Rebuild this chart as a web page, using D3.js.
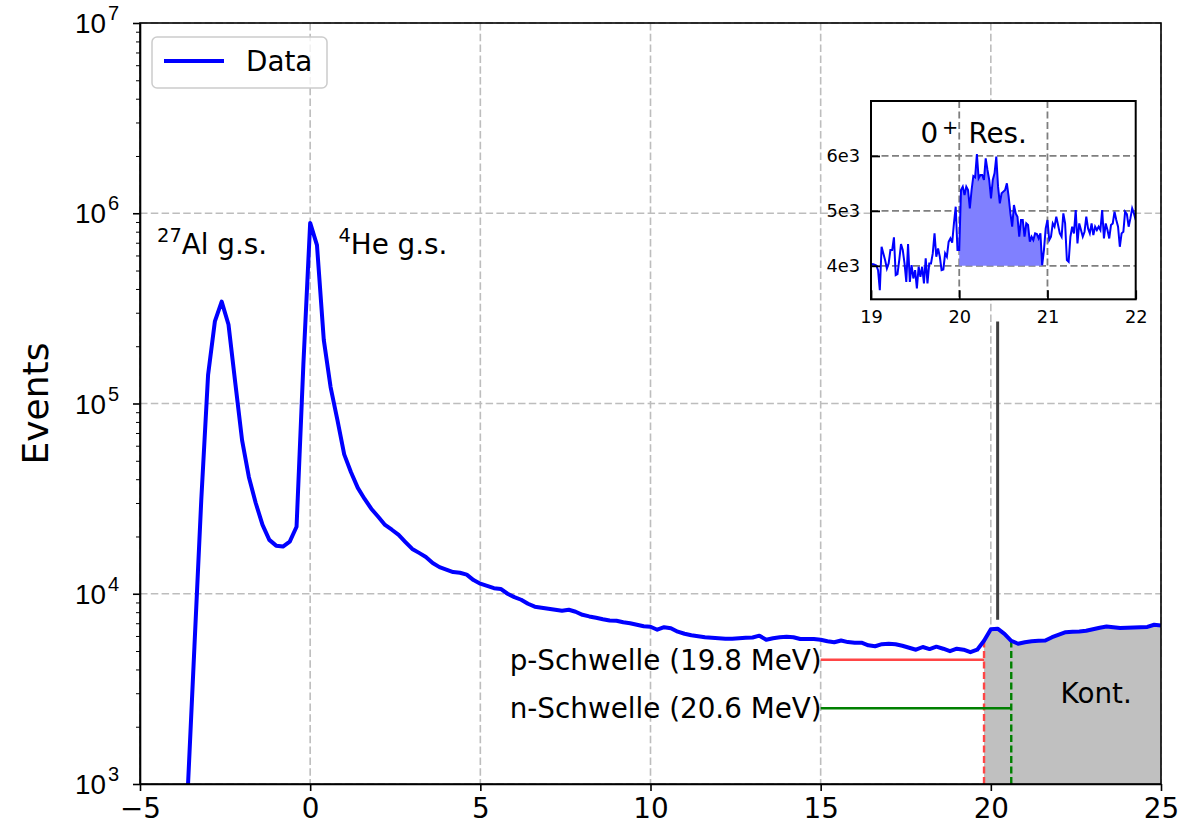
<!DOCTYPE html>
<html>
<head>
<meta charset="utf-8">
<script src="https://cdn.jsdelivr.net/npm/d3@7"></script>
<style>
  body { margin: 0; background: #fff; }
  svg { display: block; font-family: "DejaVu Sans", sans-serif; }
</style>
</head>
<body>
<svg id="chart" width="1194" height="829"></svg>
<script>
// ---- data ----
const energy = [-3.6,-3.4,-3.2,-3,-2.8,-2.6,-2.4,-2.2,-2,-1.8,-1.6,-1.4,-1.2,-1,-0.8,-0.6,-0.4,-0.2,
  0,0.2,0.4,0.6,0.8,1,1.2,1.4,1.6,1.8,2,2.2,2.4,2.6,2.8,3,3.2,3.4,3.6,3.8,4,4.2,4.4,4.6,4.8,
  5,5.2,5.4,5.6,5.8,6,6.2,6.4,6.6,6.8,7,7.2,7.4,7.6,7.8,8,8.2,8.4,8.6,8.8,9,9.2,9.4,9.6,9.8,
  10,10.2,10.4,10.6,10.8,11,11.2,11.4,11.6,11.8,12,12.2,12.4,12.6,12.8,13,13.2,13.4,13.6,13.8,14,14.2,14.4,14.6,14.8,
  15,15.2,15.4,15.6,15.8,16,16.2,16.4,16.6,16.8,17,17.2,17.4,17.6,17.8,18,18.2,18.4,18.6,18.8,19,19.2,19.4,19.6,19.8,
  20,20.2,20.4,20.6,20.8,21,21.2,21.4,21.6,21.8,22,22.2,22.4,22.6,22.8,23,23.2,23.4,23.6,23.8,24,24.2,24.4,24.6,24.8,
  25];
const events = [900,5300,31000,141000,270000,343000,260000,128000,64000,41000,30000,23000,19200,17900,17700,18800,22500,160000,
  890000,680000,216000,122000,82000,54000,43500,36000,31500,27900,25400,23000,21700,20400,18700,17200,16400,15600,14500,13800,13400,13000,12900,12600,11800,
  11300,11000,10700,10600,10000,9600,9300,8860,8550,8440,8340,8240,8140,8240,8040,7750,7600,7480,7350,7240,7210,7080,7000,6870,6750,
  6710,6470,6670,6590,6320,6160,6050,5980,5910,5870,5840,5800,5800,5840,5870,5890,6020,5730,5840,5910,5940,5910,5780,5780,5780,
  5730,5630,5560,5680,5570,5530,5530,5360,5300,5430,5460,5430,5330,5200,5080,5250,5120,5270,5140,4990,5140,5080,4930,5080,5660,
  6510,6550,6160,5660,5460,5560,5630,5660,5680,5910,6090,6280,6320,6340,6390,6510,6630,6730,6670,6610,6630,6650,6670,6690,6870,
  6800];

const xTicks = [-5, 0, 5, 10, 15, 20, 25];
const yTicks = [1e3, 1e4, 1e5, 1e6, 1e7];
const yTickExp = ["3", "4", "5", "6", "7"];

const pThreshold = 19.8, nThreshold = 20.6;
const pLevel = 4500, nLevel = 2500, lineStart = 15;
const resonance = 20.2, connector = [7300, 270000];

const insetEnergy = [19,19.02,19.04,19.06,19.08,19.1,19.12,19.14,19.16,19.18,
  19.2,19.22,19.24,19.26,19.28,19.3,19.32,19.34,19.36,19.38,
  19.4,19.42,19.44,19.46,19.48,19.5,19.52,19.54,19.56,19.58,
  19.6,19.62,19.64,19.66,19.68,19.7,19.72,19.74,19.76,19.78,
  19.8,19.82,19.84,19.86,19.88,19.9,19.92,19.94,19.96,19.98,
  20,20.02,20.04,20.06,20.08,20.1,20.12,20.14,20.16,20.18,
  20.2,20.22,20.24,20.26,20.28,20.3,20.32,20.34,20.36,20.38,
  20.4,20.42,20.44,20.46,20.48,20.5,20.52,20.54,20.56,20.58,
  20.6,20.62,20.64,20.66,20.68,20.7,20.72,20.74,20.76,20.78,
  20.8,20.82,20.84,20.86,20.88,20.9,20.92,20.94,20.96,20.98,
  21,21.02,21.04,21.06,21.08,21.1,21.12,21.14,21.16,21.18,
  21.2,21.22,21.24,21.26,21.28,21.3,21.32,21.34,21.36,21.38,
  21.4,21.42,21.44,21.46,21.48,21.5,21.52,21.54,21.56,21.58,
  21.6,21.62,21.64,21.66,21.68,21.7,21.72,21.74,21.76,21.78,
  21.8,21.82,21.84,21.86,21.88,21.9,21.92,21.94,21.96,21.98,
  22];
const insetEvents = [4012,4030,4018,4006,3920,3556,4346,4225,4103,3951,
  4043,4286,4286,4517,3830,3848,4103,4395,4286,4043,
  3708,4395,3708,4012,3769,3921,3587,3982,3799,3982,
  3678,4134,3678,4043,4043,4225,4590,4164,4316,4164,
  3921,3933,4225,4164,4438,4498,4420,4772,5076,4286,
  4286,5380,5441,5289,5441,5380,5046,5380,5635,5611,
  6036,5593,5653,5653,5562,5957,5745,5562,5228,5562,
  5684,5988,5441,5137,5319,5350,5380,5501,5258,4954,
  4711,5106,4954,4894,4529,4833,4833,4529,4772,4742,
  4438,4529,4468,4590,4577,4498,4590,4012,4286,4681,
  4833,4468,4529,4772,4711,4894,4742,4590,4529,4954,
  4772,4103,4073,4529,4711,4590,5015,4407,4772,4650,
  4529,4620,4894,4681,4590,4772,4559,4711,4650,4711,
  4650,5015,4498,4772,4650,4498,4742,4772,4985,4833,
  4711,4346,4590,4620,4985,4942,4711,4863,5046,4954,
  4833];
const insetXTicks = [19, 20, 21, 22];
const insetYTicks = [4000, 5000, 6000];
const insetYLabels = ["4e3", "5e3", "6e3"];
const resRange = [20.0, 20.94], resBase = 4000;

// ---- layout ----
const W = 1194, H = 829;
const plot = {left: 140, right: 1161, top: 23, bottom: 784};
const inset = {left: 871, right: 1135.7, top: 101, bottom: 299.3};
const fs = 27.8;

const svg = d3.select("#chart");
svg.append("rect").attr("width", W).attr("height", H).attr("fill", "#fff");

const x = d3.scaleLinear().domain([-5, 25]).range([plot.left, plot.right]);
const y = d3.scaleLog().domain([1e3, 1e7]).range([plot.bottom, plot.top]);

svg.append("defs").append("clipPath").attr("id", "plotClip")
  .append("rect")
  .attr("x", plot.left).attr("y", plot.top)
  .attr("width", plot.right - plot.left).attr("height", plot.bottom - plot.top);

// grid
const grid = svg.append("g")
  .attr("stroke", "#bdbdbd").attr("stroke-width", 1.6).attr("stroke-dasharray", "7.5,3.3");
grid.selectAll("line.gx").data(xTicks).join("line").attr("class", "gx")
  .attr("x1", d => x(d)).attr("x2", d => x(d)).attr("y1", plot.top).attr("y2", plot.bottom);
grid.selectAll("line.gy").data(yTicks).join("line").attr("class", "gy")
  .attr("y1", d => y(d)).attr("y2", d => y(d)).attr("x1", plot.left).attr("x2", plot.right);

const data = energy.map((e, i) => ({e, v: events[i]}));
const g = svg.append("g").attr("clip-path", "url(#plotClip)");

// continuum fill
g.append("path")
  .datum(data.filter(d => d.e >= pThreshold - 1e-9))
  .attr("fill", "#c0c0c0")
  .attr("d", d3.area().x(d => x(d.e)).y0(plot.bottom).y1(d => y(d.v)));

// threshold markers
const thresholds = [
  {e: pThreshold, level: pLevel, color: "#ff4545", label: "p-Schwelle (19.8 MeV)"},
  {e: nThreshold, level: nLevel, color: "#008000", label: "n-Schwelle (20.6 MeV)"}
];
const valueAt = e => data.find(d => Math.abs(d.e - e) < 1e-9).v;
g.selectAll("line.vth").data(thresholds).join("line").attr("class", "vth")
  .attr("x1", d => x(d.e)).attr("x2", d => x(d.e))
  .attr("y1", plot.bottom).attr("y2", d => y(valueAt(d.e)))
  .attr("stroke", d => d.color).attr("stroke-width", 2.4).attr("stroke-dasharray", "7,3.5");
g.selectAll("line.hth").data(thresholds).join("line").attr("class", "hth")
  .attr("x1", x(lineStart)).attr("x2", d => x(d.e))
  .attr("y1", d => y(d.level)).attr("y2", d => y(d.level))
  .attr("stroke", d => d.color).attr("stroke-width", 2.4);

// data line
g.append("path")
  .datum(data)
  .attr("fill", "none").attr("stroke", "#0000ff").attr("stroke-width", 4)
  .attr("stroke-linejoin", "round")
  .attr("d", d3.line().x(d => x(d.e)).y(d => y(d.v)));

// connector from resonance to inset
g.append("line")
  .attr("x1", x(resonance)).attr("x2", x(resonance))
  .attr("y1", y(connector[0])).attr("y2", y(connector[1]))
  .attr("stroke", "#404040").attr("stroke-width", 3);

// threshold labels
svg.selectAll("text.thl").data(thresholds).join("text").attr("class", "thl")
  .attr("x", x(lineStart) + 1).attr("y", d => y(d.level) + 10)
  .attr("text-anchor", "end").attr("font-size", fs).attr("fill", "#000")
  .text(d => d.label);

svg.append("text").attr("x", x(22.05)).attr("y", y(2670))
  .attr("font-size", fs).text("Kont.");

// peak annotations
function supLabel(px, py, sup, main) {
  const t = svg.append("text").attr("x", px).attr("y", py).attr("font-size", fs);
  t.append("tspan").attr("font-size", fs * 0.7).attr("dy", -12).text(sup);
  t.append("tspan").attr("dy", 12).text(main);
}
supLabel(x(-4.5), y(6.1e5), "27", "Al g.s.");
supLabel(x(0.83), y(6.1e5), "4", "He g.s.");

// axes
const xAxis = svg.append("g")
  .attr("transform", `translate(0,${plot.bottom})`)
  .call(d3.axisBottom(x).tickValues(xTicks).tickSize(7).tickPadding(7).tickSizeOuter(0)
    .tickFormat(d => d < 0 ? "\u2212" + Math.abs(d) : d));
xAxis.selectAll("text").attr("font-size", fs).attr("font-family", "DejaVu Sans").attr("fill", "#000");

const minor = [];
[1e3, 1e4, 1e5, 1e6].forEach(b => { for (let k = 2; k <= 9; k++) minor.push(b * k); });
svg.append("g")
  .attr("transform", `translate(${plot.left},0)`)
  .call(d3.axisLeft(y).tickValues(minor).tickSize(4).tickFormat("").tickSizeOuter(0))
  .call(s => s.select(".domain").remove());
const yAxis = svg.append("g")
  .attr("transform", `translate(${plot.left},0)`)
  .call(d3.axisLeft(y).tickValues(yTicks).tickSize(7).tickFormat("").tickSizeOuter(0));

const yl = yAxis.selectAll("text.ylab").data(yTicks).join("text").attr("class", "ylab")
  .attr("x", -21).attr("y", d => y(d) + 10)
  .attr("text-anchor", "end").attr("font-size", fs).attr("fill", "#000");
yl.append("tspan").text("10");
yl.append("tspan").attr("font-size", fs * 0.72).attr("dx", 2).attr("dy", -13).text((d, i) => yTickExp[i]);

[xAxis, yAxis].forEach(a => a.selectAll("line, path").attr("stroke-width", 1.6));

// frame
svg.append("rect")
  .attr("x", plot.left).attr("y", plot.top)
  .attr("width", plot.right - plot.left).attr("height", plot.bottom - plot.top)
  .attr("fill", "none").attr("stroke", "#000").attr("stroke-width", 1.6);

svg.append("text")
  .attr("transform", `translate(48,${(plot.top + plot.bottom) / 2}) rotate(-90)`)
  .attr("text-anchor", "middle").attr("font-size", 36).text("Events");

// legend
const leg = svg.append("g");
leg.append("rect").attr("x", 152).attr("y", 37).attr("width", 175).attr("height", 51)
  .attr("rx", 5).attr("fill", "#fff").attr("fill-opacity", 0.8)
  .attr("stroke", "#cccccc").attr("stroke-width", 1.5);
leg.append("line").attr("x1", 164).attr("x2", 224).attr("y1", 61).attr("y2", 61)
  .attr("stroke", "#0000ff").attr("stroke-width", 4);
leg.append("text").attr("x", 246).attr("y", 71).attr("font-size", fs).text("Data");

// ---- inset ----
const ix = d3.scaleLinear().domain([19, 22]).range([inset.left, inset.right]);
const iy = d3.scaleLinear().domain([3390, 7000]).range([inset.bottom, inset.top]);
const ins = svg.append("g");
ins.append("defs").append("clipPath").attr("id", "insetClip")
  .append("rect").attr("x", inset.left).attr("y", inset.top)
  .attr("width", inset.right - inset.left).attr("height", inset.bottom - inset.top);
ins.append("rect").attr("x", inset.left).attr("y", inset.top)
  .attr("width", inset.right - inset.left).attr("height", inset.bottom - inset.top)
  .attr("fill", "#fff");

const ig = ins.append("g")
  .attr("stroke", "#7f7f7f").attr("stroke-width", 1.8).attr("stroke-dasharray", "7,3.5");
ig.selectAll("line.ix").data(insetXTicks.slice(1, -1)).join("line").attr("class", "ix")
  .attr("x1", d => ix(d)).attr("x2", d => ix(d)).attr("y1", inset.top).attr("y2", inset.bottom);
ig.selectAll("line.iy").data(insetYTicks).join("line").attr("class", "iy")
  .attr("y1", d => iy(d)).attr("y2", d => iy(d)).attr("x1", inset.left).attr("x2", inset.right);

const insetData = insetEnergy.map((e, i) => ({e, v: insetEvents[i]}));
const ic = ins.append("g").attr("clip-path", "url(#insetClip)");
ic.append("path")
  .datum(insetData.filter(d => d.e >= resRange[0] - 1e-9 && d.e <= resRange[1] + 1e-9))
  .attr("fill", "#8080ff")
  .attr("d", d3.area().x(d => ix(d.e)).y0(iy(resBase)).y1(d => iy(d.v)));
ic.append("path")
  .datum(insetData)
  .attr("fill", "none").attr("stroke", "#0000ff").attr("stroke-width", 2)
  .attr("d", d3.line().x(d => ix(d.e)).y(d => iy(d.v)));

const ixAxis = ins.append("g").attr("transform", `translate(0,${inset.bottom})`)
  .call(d3.axisBottom(ix).tickValues(insetXTicks).tickSize(-9).tickPadding(11).tickSizeOuter(0)
    .tickFormat(d3.format("d")));
const iyAxis = ins.append("g").attr("transform", `translate(${inset.left},0)`)
  .call(d3.axisLeft(iy).tickValues(insetYTicks).tickSize(-9).tickPadding(11).tickSizeOuter(0)
    .tickFormat((d, i) => insetYLabels[i]));
[ixAxis, iyAxis].forEach(a => {
  a.select(".domain").remove();
  a.selectAll("line").attr("stroke-width", 1.8);
  a.selectAll("text").attr("font-size", 17.8).attr("font-family", "DejaVu Sans").attr("fill", "#000");
});
ins.append("rect").attr("x", inset.left).attr("y", inset.top)
  .attr("width", inset.right - inset.left).attr("height", inset.bottom - inset.top)
  .attr("fill", "none").attr("stroke", "#000").attr("stroke-width", 2);

const resLabel = ins.append("text").attr("x", ix(19.56)).attr("y", iy(6230)).attr("font-size", fs);
resLabel.append("tspan").text("0");
resLabel.append("tspan").attr("font-size", fs * 0.7).attr("dx", 4).attr("dy", -9).text("+");
resLabel.append("tspan").attr("dx", 10).attr("dy", 9).text("Res.");
</script>
</body>
</html>
